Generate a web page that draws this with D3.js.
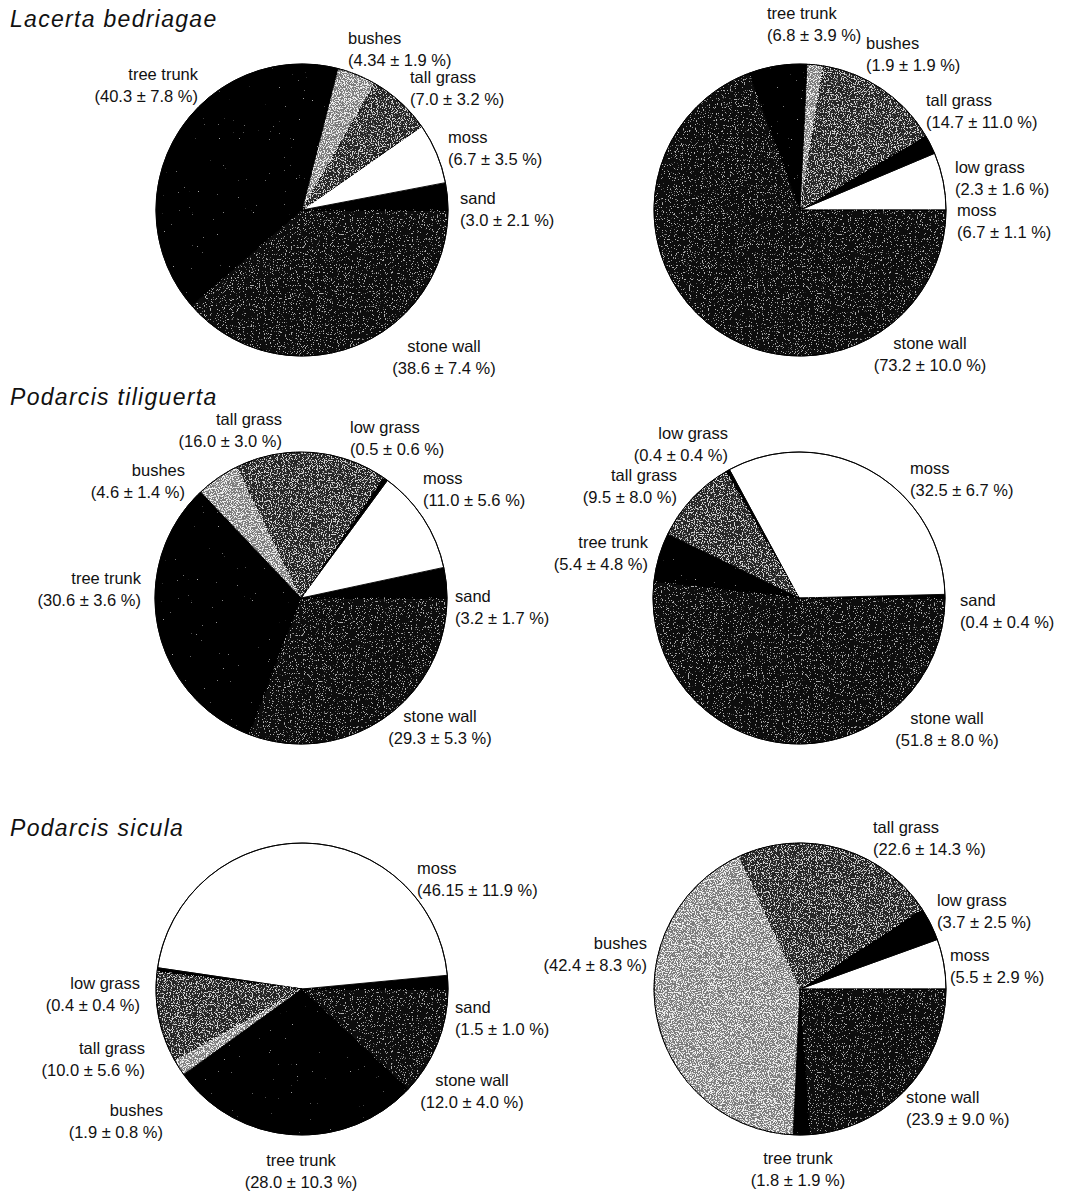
<!DOCTYPE html>
<html>
<head>
<meta charset="utf-8">
<script src="https://cdn.jsdelivr.net/npm/d3@7"></script>
<style>
  html, body { margin: 0; padding: 0; background: #fff; }
  svg { display: block; }
  .lbl { font-family: "Liberation Sans", Arial, Helvetica, sans-serif; font-size: 16.5px; fill: #111; }
  .ttl { font-family: "Liberation Sans", Arial, Helvetica, sans-serif; font-size: 23px; font-style: italic; fill: #111; letter-spacing: 1.3px; }
</style>
</head>
<body>
<svg id="chart" width="1071" height="1192"></svg>
<script>
// Microhabitat categories, in drawing order (counter-clockwise from 3 o'clock)
const categories = ["sand", "moss", "low grass", "tall grass", "bushes", "tree trunk", "stone wall"];

// Species headings (one per row)
const species = ["Lacerta bedriagae", "Podarcis tiliguerta", "Podarcis sicula"];

// Mean use (%) and standard error per category; null = category not recorded
const bedriagaeA_mean = [3.0, 6.7, null, 7.0, 4.34, 40.3, 38.6];
const bedriagaeA_se   = [2.1, 3.5, null, 3.2, 1.9, 7.8, 7.4];
const bedriagaeB_mean = [null, 6.7, 2.3, 14.7, 1.9, 6.8, 73.2];
const bedriagaeB_se   = [null, 1.1, 1.6, 11.0, 1.9, 3.9, 10.0];

const tiliguertaA_mean = [3.2, 11.0, 0.5, 16.0, 4.6, 30.6, 29.3];
const tiliguertaA_se   = [1.7, 5.6, 0.6, 3.0, 1.4, 3.6, 5.3];
const tiliguertaB_mean = [0.4, 32.5, 0.4, 9.5, null, 5.4, 51.8];
const tiliguertaB_se   = [0.4, 6.7, 0.4, 8.0, null, 4.8, 8.0];

const siculaA_mean = [1.5, 46.15, 0.4, 10.0, 1.9, 28.0, 12.0];
const siculaA_se   = [1.0, 11.9, 0.4, 5.6, 0.8, 10.3, 4.0];
const siculaB_mean = [null, 5.5, 3.7, 22.6, 42.4, 1.8, 23.9];
const siculaB_se   = [null, 2.9, 2.5, 14.3, 8.3, 1.9, 9.0];

const panels = [
  { mean: bedriagaeA_mean, se: bedriagaeA_se },
  { mean: bedriagaeB_mean, se: bedriagaeB_se },
  { mean: tiliguertaA_mean, se: tiliguertaA_se },
  { mean: tiliguertaB_mean, se: tiliguertaB_se },
  { mean: siculaA_mean, se: siculaA_se },
  { mean: siculaB_mean, se: siculaB_se }
];

// ---- layout ----
const radius = 146;
const centers = [[302, 210], [800, 210], [301, 598], [799, 598], [302, 989], [800, 989]];
const titlePos = [[10, 27], [10, 405], [10, 836]];
const lineGap = 21.5;

// label anchor offsets from each pie centre: [dx, dy, text-anchor]
const labelSpots = [
  { "tree trunk": [-104, -130, "end"], "bushes": [46, -166, "start"], "tall grass": [108, -127, "start"],
    "moss": [146, -67, "start"], "sand": [158, -6, "start"], "stone wall": [142, 142, "middle"] },
  { "tree trunk": [-33, -191, "start"], "bushes": [66, -161, "start"], "tall grass": [126, -104, "start"],
    "low grass": [155, -37, "start"], "moss": [157, 6, "start"], "stone wall": [130, 139, "middle"] },
  { "tall grass": [-19, -173, "end"], "low grass": [49, -165, "start"], "bushes": [-116, -122, "end"],
    "moss": [122, -114, "start"], "tree trunk": [-160, -14, "end"], "sand": [154, 4, "start"],
    "stone wall": [139, 124, "middle"] },
  { "low grass": [-71, -159, "end"], "tall grass": [-122, -117, "end"], "tree trunk": [-151, -50, "end"],
    "moss": [111, -124, "start"], "sand": [161, 8, "start"], "stone wall": [148, 126, "middle"] },
  { "moss": [115, -115, "start"], "low grass": [-162, 0, "end"], "tall grass": [-157, 65, "end"],
    "bushes": [-139, 127, "end"], "sand": [153, 24, "start"], "stone wall": [170, 97, "middle"],
    "tree trunk": [-1, 177, "middle"] },
  { "tall grass": [73, -156, "start"], "low grass": [137, -83, "start"], "moss": [150, -28, "start"],
    "bushes": [-153, -40, "end"], "stone wall": [106, 114, "start"], "tree trunk": [-2, 175, "middle"] }
];

// ---- fills: base tone plus speckle grain ----
const fillStyle = {
  "sand":       { base: "#000000" },
  "moss":       { base: "#ffffff" },
  "low grass":  { base: "#000000" },
  "tall grass": { base: "#262626", dot: "#a8a8a8", t: 0.55, seed: 4 },
  "bushes":     { base: "#7c7c7c", dot: "#dcdcdc", t: 0.50, seed: 7 },
  "tree trunk": { base: "#000000", dot: "#6a6a6a", t: 0.80, seed: 2 },
  "stone wall": { base: "#0a0a0a", dot: "#6e6e6e", t: 0.63, seed: 9 }
};

const svg = d3.select("#chart");
svg.append("rect").attr("width", 1071).attr("height", 1192).attr("fill", "#fff");

const defs = svg.append("defs");
Object.entries(fillStyle).forEach(([cat, st]) => {
  if (!st.dot) return;
  const c = d3.color(st.dot);
  const f = defs.append("filter")
    .attr("id", "grain-" + cat.replace(/\s+/g, "-"))
    .attr("x", "-5%").attr("y", "-5%").attr("width", "110%").attr("height", "110%");
  f.append("feTurbulence").attr("type", "fractalNoise").attr("baseFrequency", 0.85)
    .attr("numOctaves", 2).attr("seed", st.seed).attr("result", "noise");
  const k = 14;
  f.append("feColorMatrix").attr("in", "noise").attr("type", "matrix")
    .attr("values", `0 0 0 0 ${c.r / 255}  0 0 0 0 ${c.g / 255}  0 0 0 0 ${c.b / 255}  ${k} 0 0 0 ${-k * st.t}`)
    .attr("result", "dots");
  f.append("feComposite").attr("in", "dots").attr("in2", "SourceAlpha").attr("operator", "in").attr("result", "clipped");
  const m = f.append("feMerge");
  m.append("feMergeNode").attr("in", "SourceGraphic");
  m.append("feMergeNode").attr("in", "clipped");
});

// counter-clockwise pie starting at 3 o'clock
const pie = d3.pie()
  .sort(null)
  .value(d => d.mean)
  .startAngle(Math.PI / 2)
  .endAngle(Math.PI / 2 - 2 * Math.PI);

const arc = d3.arc().innerRadius(0).outerRadius(radius);

const fmt = v => { const s = String(v); return s.includes(".") ? s : v.toFixed(1); };

// species headings
species.forEach((name, i) => {
  svg.append("text").attr("class", "ttl")
    .attr("x", titlePos[i][0]).attr("y", titlePos[i][1])
    .text(name);
});

panels.forEach((p, pi) => {
  const rows = categories.map((cat, i) => ({ cat, mean: p.mean[i], se: p.se[i] }))
    .filter(d => d.mean !== null);
  const [cx, cy] = centers[pi];
  const g = svg.append("g").attr("transform", `translate(${cx},${cy})`);

  g.selectAll("path.slice")
    .data(pie(rows))
    .join("path")
    .attr("class", "slice")
    .attr("d", arc)
    .attr("fill", d => fillStyle[d.data.cat].base)
    .attr("stroke", "#000")
    .attr("stroke-width", 0.9)
    .attr("stroke-linejoin", "round")
    .attr("filter", d => fillStyle[d.data.cat].dot ? `url(#grain-${d.data.cat.replace(/\s+/g, "-")})` : null);

  // outline of the whole pie
  g.append("circle").attr("r", radius).attr("fill", "none").attr("stroke", "#000").attr("stroke-width", 1);

  // labels
  const spots = labelSpots[pi];
  rows.forEach(d => {
    const [dx, dy, anchor] = spots[d.cat];
    const t = g.append("text").attr("class", "lbl")
      .attr("x", dx).attr("y", dy).attr("text-anchor", anchor);
    t.append("tspan").attr("x", dx).text(d.cat);
    t.append("tspan").attr("x", dx).attr("dy", lineGap)
      .text(`(${fmt(d.mean)} ± ${fmt(d.se)} %)`);
  });
});
</script>
</body>
</html>
